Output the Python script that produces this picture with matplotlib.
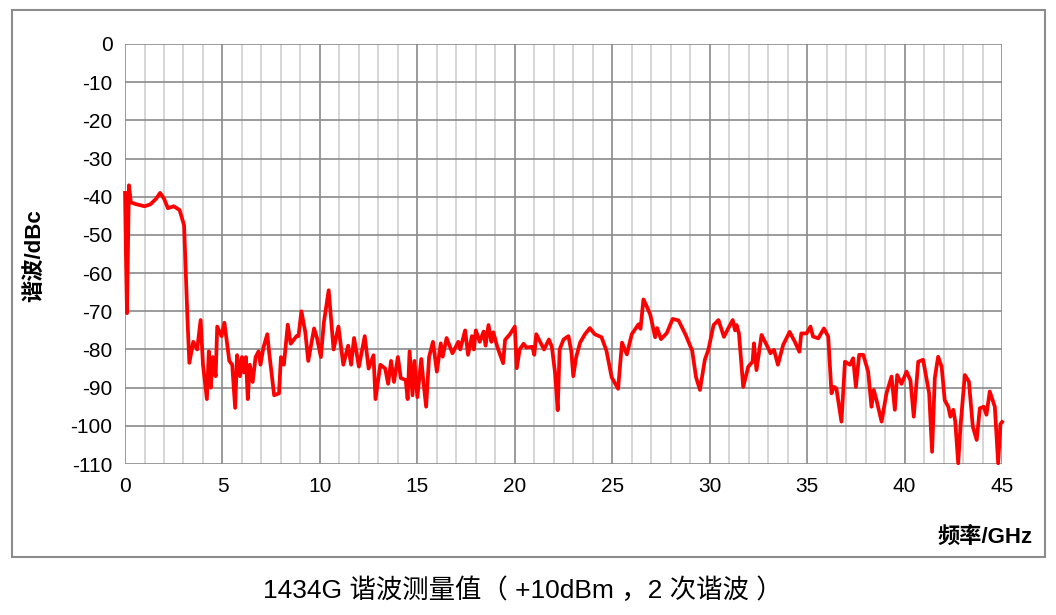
import matplotlib
matplotlib.use("Agg")
import matplotlib.pyplot as plt
from matplotlib.patches import Rectangle
import numpy as np

plt.rcParams['font.family'] = ['Liberation Sans', 'Noto Sans CJK SC', 'DejaVu Sans']

freq = [0.0, 0.05, 0.1, 0.2, 0.3, 0.6, 1.0, 1.3, 1.6, 1.8, 2.0, 2.2, 2.5, 2.8, 3.03, 3.2, 3.3, 3.5, 3.7, 3.88,
        4.0, 4.2, 4.3, 4.4, 4.5, 4.65, 4.73, 4.95, 5.1, 5.35, 5.5, 5.65, 5.75, 5.9, 6.0, 6.1, 6.2, 6.3, 6.4, 6.55,
        6.7, 6.85, 6.95, 7.1, 7.3, 7.4, 7.65, 7.9, 8.0, 8.15, 8.35, 8.5, 8.8, 8.9, 9.05, 9.25, 9.4, 9.7, 9.85, 10.05,
        10.2, 10.45, 10.7, 10.95, 11.2, 11.45, 11.6, 11.75, 12.0, 12.3, 12.5, 12.75, 12.85, 13.1, 13.35, 13.5, 13.65, 13.8, 14.0, 14.15,
        14.4, 14.5, 14.6, 14.75, 14.85, 15.0, 15.2, 15.3, 15.45, 15.6, 15.8, 16.0, 16.2, 16.3, 16.5, 16.8, 17.1, 17.2, 17.45, 17.6,
        17.8, 17.9, 18.0, 18.2, 18.4, 18.5, 18.65, 18.8, 18.9, 19.1, 19.4, 19.5, 19.75, 20.0, 20.1, 20.25, 20.45, 20.6, 20.9, 21.0,
        21.1, 21.35, 21.5, 21.75, 21.9, 22.07, 22.2, 22.3, 22.5, 22.75, 22.9, 23.0, 23.15, 23.35, 23.6, 23.85, 24.1, 24.45, 24.7, 24.97,
        25.3, 25.5, 25.75, 26.0, 26.35, 26.45, 26.6, 26.75, 26.95, 27.2, 27.3, 27.5, 27.8, 28.1, 28.4, 28.75, 29.1, 29.3, 29.5, 29.75,
        29.93, 30.2, 30.45, 30.73, 30.95, 31.18, 31.3, 31.38, 31.5, 31.72, 31.98, 32.2, 32.27, 32.4, 32.66, 32.92, 33.12, 33.3, 33.5, 33.77,
        34.1, 34.37, 34.6, 34.7, 34.97, 35.17, 35.3, 35.57, 35.86, 36.08, 36.25, 36.37, 36.5, 36.76, 36.94, 37.2, 37.36, 37.5, 37.67, 37.88,
        38.13, 38.3, 38.42, 38.56, 38.82, 39.07, 39.33, 39.5, 39.62, 39.84, 40.1, 40.3, 40.47, 40.7, 40.95, 41.26, 41.41, 41.55, 41.72, 41.9,
        42.06, 42.24, 42.35, 42.5, 42.6, 42.75, 42.87, 43.09, 43.3, 43.5, 43.7, 43.86, 44.06, 44.2, 44.37, 44.63, 44.8, 44.92, 45.0]
level = [-39, -56.6, -70.5, -37, -41.5, -42, -42.5, -42, -40.5, -39, -40.5, -43, -42.5, -43.5, -47.5, -71.5, -83.5, -78, -80, -72.3,
         -84, -93, -80.5, -90, -82, -87, -74, -76.5, -73, -83, -84, -95.3, -81.5, -87, -82, -86, -82, -93, -84, -88.5,
         -82, -80.5, -84, -79.5, -76, -81, -92, -91.5, -82, -84, -73.5, -78.5, -76.5, -76.5, -70, -75.5, -83, -74.5, -77, -82,
         -73, -64.5, -80, -74, -84, -79, -84, -77, -84.5, -76.5, -85, -81.5, -93, -84, -85, -89, -83, -88.5, -82, -87.5,
         -88, -93, -80.5, -92, -83, -92.5, -82.5, -88, -95, -82, -78, -85.8, -78.4, -81.9, -77, -81, -78, -80, -75, -81.4,
         -76.5, -80, -75, -78, -75.3, -79, -73.6, -78, -75.5, -79.3, -83.6, -77.5, -76, -74, -84.9, -80, -78.5, -79.5, -79.3, -81.4,
         -76, -78.5, -80, -77.4, -79.3, -86.3, -95.9, -80, -77.4, -76.5, -80.5, -87, -82, -78.2, -76, -74.4, -76, -76.8, -80.3, -87.3,
         -90.3, -78.2, -81.3, -76, -73.4, -74.6, -66.9, -68.5, -70.9, -76.8, -74.4, -77.3, -75.7, -72, -72.4, -76, -80.3, -87.3, -90.6, -82.7,
         -80.1, -73.6, -72.3, -76.7, -74.5, -72.3, -75, -73.6, -75.8, -89.8, -84.5, -83.2, -78.4, -85.4, -76.2, -78.8, -81, -80.1, -84, -78.8,
         -75.4, -78, -80.6, -75.8, -75.8, -74, -76.6, -77.1, -74.5, -76.6, -91.5, -89.8, -90.2, -98.9, -83.2, -84, -82.3, -89.8, -81.4, -81.4,
         -85.8, -95, -90.6, -93.3, -98.9, -91.5, -87.1, -95.8, -86.7, -89, -85.8, -88.1, -97.6, -83.2, -82.7, -91.5, -106.8, -87.5, -81.9, -84.5,
         -93.3, -95, -97.6, -95.8, -98.9, -109.8, -100, -86.7, -88.4, -100.2, -103.7, -95.4, -95, -97.1, -91.0, -95, -109.8, -99.5, -99]

xticks = list(range(0, 46, 5))
yticks = list(range(0, -111, -10))

fig = plt.figure(figsize=(10.56, 6.15), dpi=100)
fig.patches.append(Rectangle((0.0114, 0.0943), 0.9782, 0.8894, transform=fig.transFigure,
                             fill=False, edgecolor='#8c8c8c', linewidth=1.5))
ax = fig.add_axes([0.1184, 0.2455, 0.8305, 0.683])
ax.set_xlim(0, 45)
ax.set_ylim(-110, 0)
for f in range(0, 46):
    ax.axvline(f, color='#8a8a8a' if f % 5 == 0 else '#cfcfcf', lw=1.2, zorder=1)
for v in yticks:
    ax.axhline(v, color='#8a8a8a', lw=1.2, zorder=1)
ax.plot(freq, level, color='#ff0000', lw=2.7, zorder=3, clip_on=False)
for s in ax.spines.values():
    s.set_visible(False)
ax.set_xticks(xticks)
ax.set_yticks(yticks)
ax.set_xticklabels([str(t) for t in xticks], fontsize=15)
ax.set_yticklabels([str(t) for t in yticks], fontsize=15)
ax.tick_params(length=0, pad=9)
fig.text(0.033, 0.585, '谐波/dBc', rotation=90, ha='center', va='center', fontsize=16, fontweight='bold')
fig.text(0.978, 0.127, '频率/GHz', ha='right', va='center', fontsize=16, fontweight='bold')
fig.text(0.495, 0.040, '1434G 谐波测量值（ +10dBm ，2 次谐波 ）', ha='center', va='center', fontsize=19)
fig.savefig('out.png', dpi=100)
